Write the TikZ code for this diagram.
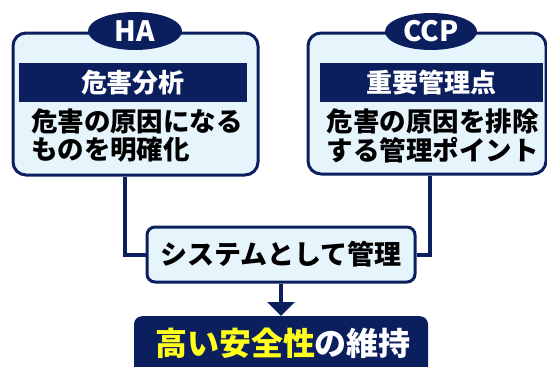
\documentclass[tikz,border=0pt]{standalone}
\usepackage{fontspec}
\setmainfont{Noto Sans CJK JP}
\usetikzlibrary{arrows.meta,shapes.geometric}
\definecolor{navy}{HTML}{0B1F5E}
\definecolor{pale}{HTML}{E6F4FC}
\definecolor{hiyellow}{HTML}{FFFF1A}
\begin{document}
\begin{tikzpicture}[x=1pt,y=-1pt,
  card/.style={draw=navy,line width=3pt,fill=pale,rounded corners=13pt,inner sep=0pt},
  band/.style={fill=navy,inner sep=0pt,text=white,font=\fontsize{26}{28}\selectfont\bfseries},
  tag/.style={ellipse,fill=navy,inner sep=0pt,text=white,font=\fontsize{28}{30}\selectfont\bfseries},
  body/.style={align=left,inner sep=0pt,text=black,font=\fontsize{26.5}{28.5}\selectfont\bfseries},
  sysbox/.style={draw=navy,line width=3pt,fill=pale,rounded corners=8pt,inner sep=0pt,
    text=black,font=\fontsize{27}{30}\selectfont\bfseries},
  resbox/.style={fill=navy,rounded corners=8pt,inner sep=0pt,text=white,
    font=\fontsize{32}{34}\selectfont\bfseries},
  link/.style={draw=navy,line width=4pt}
]
\useasboundingbox (0,0) rectangle (547,367);
\begin{scope}
\clip (0,0) rectangle (547,367);
% left card
\node[card,minimum width=245pt,minimum height=142pt] (hab) at (135.5,104) {};
\node[band,minimum width=228pt,minimum height=39pt] (hah) at (133,82.5) {危害分析};
\node[tag,minimum width=94pt,minimum height=38pt] (hat) at (135,31) {HA};
\node[body] (hat2) at (137,135.5) {危害の原因になる\\ものを明確化};
% right card
\node[card,minimum width=238pt,minimum height=141pt] (ccb) at (427,103.5) {};
\node[band,minimum width=223pt,minimum height=39pt] (cch) at (431.5,82.5) {重要管理点};
\node[tag,minimum width=92pt,minimum height=37pt] (cct) at (431,31.5) {CCP};
\node[body] (cct2) at (432.5,136) {危害の原因を排除\\する管理ポイント};
% middle
\node[sysbox,minimum width=268pt,minimum height=55pt] (sys) at (281,254.5) {システムとして管理};
% result
\node[resbox,minimum width=294pt,minimum height=70pt,anchor=north] (res) at (281,316) {};
\node[inner sep=0pt,font=\fontsize{32}{34}\selectfont\bfseries] (restxt) at (283,343)
  {\textcolor{hiyellow}{高い安全性}\textcolor{white}{の維持}};
% connectors
\coordinate (lx) at (125,0);
\coordinate (rx) at (430,0);
\draw[link] (hab.south -| lx) |- (sys.west);
\draw[link] (ccb.south -| rx) |- (sys.east);
\draw[link,-{Triangle[width=27pt,length=14pt]}] (sys.south) -- (res.north);
\end{scope}
\end{tikzpicture}
\end{document}
